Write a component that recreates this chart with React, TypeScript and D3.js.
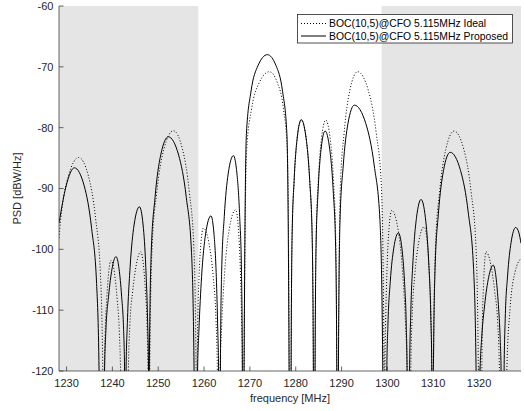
import React from 'react';
import * as d3 from 'd3';

// PSD samples: [frequency MHz, PSD dBW/Hz]
// -200 points are the deep nulls between lobes (below the visible range)
const proposedPsd: [number, number][] = [
  [1228.35, -95.7], [1229.9, -89.6], [1231.7, -86.6], [1233.86, -89.6], [1235.47, -96.6], [1236.55, -105.6], [1237.09, -120],
  [1237.69, -200],
  [1238.29, -120], [1238.59, -113.2], [1239.17, -107.7], [1239.92, -103.2], [1240.8, -101.2], [1241.45, -103.2], [1242.01, -107.7], [1242.44, -113.2], [1242.66, -120],
  [1242.82, -200],
  [1242.98, -120], [1243.27, -112], [1243.86, -103], [1244.73, -96], [1245.9, -93], [1246.7, -96], [1247.29, -103], [1247.69, -112], [1247.89, -120],
  [1247.97, -200],
  [1248.05, -120], [1248.47, -100.5], [1249.3, -91.5], [1250.54, -84.5], [1252.2, -81.5], [1254.45, -84.5], [1256.13, -91.5], [1257.26, -100.5], [1257.82, -120],
  [1258.2, -200],
  [1258.58, -120], [1258.87, -113.5], [1259.46, -104.5], [1260.33, -97.5], [1261.5, -94.5], [1262.17, -97.5], [1262.67, -104.5], [1263.0, -113.5], [1263.17, -120],
  [1263.37, -200],
  [1263.56, -120], [1263.84, -103.6], [1264.41, -94.6], [1265.26, -87.6], [1266.4, -84.6], [1267.18, -87.6], [1267.77, -94.6], [1268.16, -103.6], [1268.36, -120],
  [1268.55, -200],
  [1268.73, -120], [1269.24, -81], [1270.25, -74], [1271.77, -69.8], [1273.8, -68], [1275.7, -69.8], [1277.12, -74], [1278.07, -81], [1278.55, -120],
  [1278.77, -200],
  [1278.99, -120], [1279.21, -97.7], [1279.65, -88.7], [1280.32, -81.7], [1281.2, -78.7], [1282.26, -81.7], [1283.05, -88.7], [1283.58, -97.7], [1283.85, -120],
  [1284.03, -200],
  [1284.22, -120], [1284.44, -99.55], [1284.87, -90.55], [1285.53, -83.55], [1286.4, -80.55], [1287.42, -83.55], [1288.19, -90.55], [1288.7, -99.55], [1288.96, -120],
  [1289.13, -200],
  [1289.31, -120], [1289.66, -95.3], [1290.36, -86.3], [1291.4, -79.3], [1292.8, -76.3], [1295.28, -79.3], [1297.14, -86.3], [1298.38, -95.3], [1299.0, -120],
  [1299.43, -200],
  [1299.87, -120], [1300.12, -112.3], [1300.63, -105.3], [1301.39, -99.8], [1302.4, -97.3], [1303.16, -99.8], [1303.73, -105.3], [1304.11, -112.3], [1304.3, -120],
  [1304.57, -200],
  [1304.84, -120], [1305.09, -110.8], [1305.59, -101.8], [1306.35, -94.8], [1307.35, -91.8], [1308.29, -94.8], [1308.99, -101.8], [1309.46, -110.8], [1309.69, -120],
  [1309.87, -200],
  [1310.04, -120], [1310.41, -103.05], [1311.14, -94.05], [1312.24, -87.05], [1313.7, -84.05], [1315.96, -87.05], [1317.66, -94.05], [1318.79, -103.05], [1319.35, -120],
  [1319.79, -200],
  [1320.22, -120], [1320.57, -114.6], [1321.23, -109.1], [1322.09, -104.6], [1323.1, -102.6], [1323.7, -104.6], [1324.21, -109.1], [1324.6, -114.6], [1324.81, -120],
  [1325.14, -200],
  [1325.46, -120], [1325.71, -111.4], [1326.22, -104.4], [1326.98, -98.9], [1328.0, -96.4], [1328.7, -97.3], [1329.15, -99.0],
];

const idealPsd: [number, number][] = [
  [1228.35, -98.1], [1228.75, -94.9], [1230.42, -87.9], [1232.65, -84.9], [1234.75, -87.9], [1236.33, -94.9], [1237.38, -103.9], [1237.9, -120],
  [1238.08, -200],
  [1238.25, -120], [1238.42, -113.8], [1238.76, -108.3], [1239.19, -103.8], [1239.7, -101.8], [1240.43, -103.8], [1241.05, -108.3], [1241.53, -113.8], [1241.78, -120],
  [1242.63, -200],
  [1243.48, -120], [1243.81, -112.4], [1244.43, -106.9], [1245.25, -102.4], [1246.2, -100.4], [1246.74, -102.4], [1247.21, -106.9], [1247.56, -112.4], [1247.75, -120],
  [1247.95, -200],
  [1248.15, -120], [1248.67, -99.5], [1249.7, -90.5], [1251.24, -83.5], [1253.3, -80.5], [1255.28, -83.5], [1256.77, -90.5], [1257.76, -99.5], [1258.26, -120],
  [1258.4, -200],
  [1258.5, -120], [1258.64, -111.5], [1258.91, -104.5], [1259.31, -99], [1259.85, -96.5], [1261.07, -99], [1261.99, -104.5], [1262.6, -111.5], [1262.9, -120],
  [1263.2, -200],
  [1263.5, -120], [1263.84, -112.5], [1264.52, -103.5], [1265.54, -96.5], [1266.9, -93.5], [1267.48, -96.5], [1267.92, -103.5], [1268.21, -112.5], [1268.36, -120],
  [1268.55, -200],
  [1268.73, -120], [1269.28, -83.8], [1270.39, -76.8], [1272.04, -72.6], [1274.25, -70.8], [1275.99, -72.6], [1277.3, -76.8], [1278.17, -83.8], [1278.6, -120],
  [1278.8, -200],
  [1278.99, -120], [1279.21, -97.7], [1279.65, -88.7], [1280.32, -81.7], [1281.2, -78.7], [1282.26, -81.7], [1283.05, -88.7], [1283.58, -97.7], [1283.85, -120],
  [1284.03, -200],
  [1284.22, -120], [1284.45, -97.75], [1284.92, -88.75], [1285.62, -81.75], [1286.55, -78.75], [1287.51, -81.75], [1288.24, -88.75], [1288.72, -97.75], [1288.96, -120],
  [1289.13, -200],
  [1289.31, -120], [1289.73, -89.8], [1290.57, -80.8], [1291.82, -73.8], [1293.5, -70.8], [1295.81, -73.8], [1297.55, -80.8], [1298.7, -89.8], [1299.28, -120],
  [1299.37, -200],
  [1299.45, -120], [1299.6, -112.6], [1299.9, -103.6], [1300.35, -96.6], [1300.95, -93.6], [1302.29, -96.6], [1303.3, -103.6], [1303.97, -112.6], [1304.3, -120],
  [1304.7, -200],
  [1305.1, -120], [1305.39, -111.3], [1305.97, -104.3], [1306.84, -98.8], [1308.0, -96.3], [1308.68, -98.8], [1309.18, -104.3], [1309.52, -111.3], [1309.69, -120],
  [1309.87, -200],
  [1310.04, -120], [1310.49, -99.55], [1311.39, -90.55], [1312.75, -83.55], [1314.55, -80.55], [1316.67, -83.55], [1318.26, -90.55], [1319.32, -99.55], [1319.85, -120],
  [1320.22, -200],
  [1320.6, -120], [1320.71, -112.4], [1320.92, -106.9], [1321.19, -102.4], [1321.5, -100.4], [1322.53, -102.4], [1323.41, -106.9], [1324.09, -112.4], [1324.44, -120],
  [1325.25, -200],
  [1326.05, -120], [1326.8, -109.4], [1327.86, -103.7], [1329.15, -101.5],
];

// shaded out-of-band regions [from, to] in MHz
const shadedBands: [number, number][] = [
  [1228.35, 1258.75],
  [1298.75, 1329.15],
];

const xTicks = [1230, 1240, 1250, 1260, 1270, 1280, 1290, 1300, 1310, 1320];
const yTicks = [-60, -70, -80, -90, -100, -110, -120];

const legendItems = [
  { label: 'BOC(10,5)@CFO 5.115MHz Ideal', dash: '1 2' },
  { label: 'BOC(10,5)@CFO 5.115MHz Proposed', dash: null },
];

const W = 524;
const H = 411;
const FONT = '"Liberation Sans", Arial, Helvetica, sans-serif';
const TXT = '#262626';

export default function App() {
  const left = 59, right = 521, top = 6, bottom = 371;

  const x = d3.scaleLinear().domain([1228.35, 1329.15]).range([left, right]);
  const y = d3.scaleLinear().domain([-120, -60]).range([bottom, top]);

  const line = d3.line<[number, number]>()
    .x(d => x(d[0]))
    .y(d => y(d[1]))
    .curve(d3.curveMonotoneX);

  return (
    <svg width={W} height={H} style={{ position: 'absolute', left: 0, top: 0, background: '#fff' }}
      fontFamily={FONT}>
      <defs>
        <clipPath id="plot-clip">
          <rect x={left} y={top} width={right - left} height={bottom - top} />
        </clipPath>
      </defs>

      {/* shaded bands */}
      {shadedBands.map(([a, b], i) => (
        <rect key={i} x={x(a)} y={top} width={x(b) - x(a)} height={bottom - top} fill="#e5e5e5" />
      ))}

      {/* curves */}
      <g clipPath="url(#plot-clip)">
        <path d={line(idealPsd) || ''} fill="none" stroke="#000" strokeWidth={1} strokeDasharray="1 2" />
        <path d={line(proposedPsd) || ''} fill="none" stroke="#000" strokeWidth={1} />
      </g>

      {/* axes */}
      <line x1={left} x2={right} y1={bottom} y2={bottom} stroke="#404040" strokeWidth={0.8} />
      <line x1={left} x2={left} y1={top} y2={bottom} stroke="#404040" strokeWidth={0.8} />

      {xTicks.map(t => (
        <g key={t}>
          <line x1={x(t)} x2={x(t)} y1={bottom} y2={bottom - 4.5} stroke="#404040" strokeWidth={0.8} />
          <text x={x(t)} y={386.5} textAnchor="middle" fontSize={11} fill={TXT}>{t}</text>
        </g>
      ))}
      {yTicks.map(t => (
        <g key={t}>
          <line x1={left} x2={left + 4.5} y1={y(t)} y2={y(t)} stroke="#404040" strokeWidth={0.8} />
          <text x={53.5} y={y(t)} dy="0.35em" textAnchor="end" fontSize={11} fill={TXT}>{t}</text>
        </g>
      ))}

      <text x={(left + right) / 2} y={402} textAnchor="middle" fontSize={11} fill={TXT}>frequency [MHz]</text>
      <text transform={`translate(21,${(top + bottom) / 2}) rotate(-90)`} textAnchor="middle" fontSize={11} fill={TXT}>
        PSD [dBW/Hz]
      </text>

      {/* legend */}
      <g>
        <rect x={297.5} y={14.5} width={215} height={28.5} fill="#fff" stroke="#262626" strokeWidth={0.8} />
        {legendItems.map((it, i) => {
          const ly = 23.5 + i * 12.5;
          return (
            <g key={it.label}>
              <line x1={301} x2={326} y1={ly} y2={ly} stroke="#000" strokeWidth={1}
                strokeDasharray={it.dash || undefined} />
              <text x={329} y={ly} dy="0.35em" fontSize={10.4} fill="#000">{it.label}</text>
            </g>
          );
        })}
      </g>
    </svg>
  );
}
